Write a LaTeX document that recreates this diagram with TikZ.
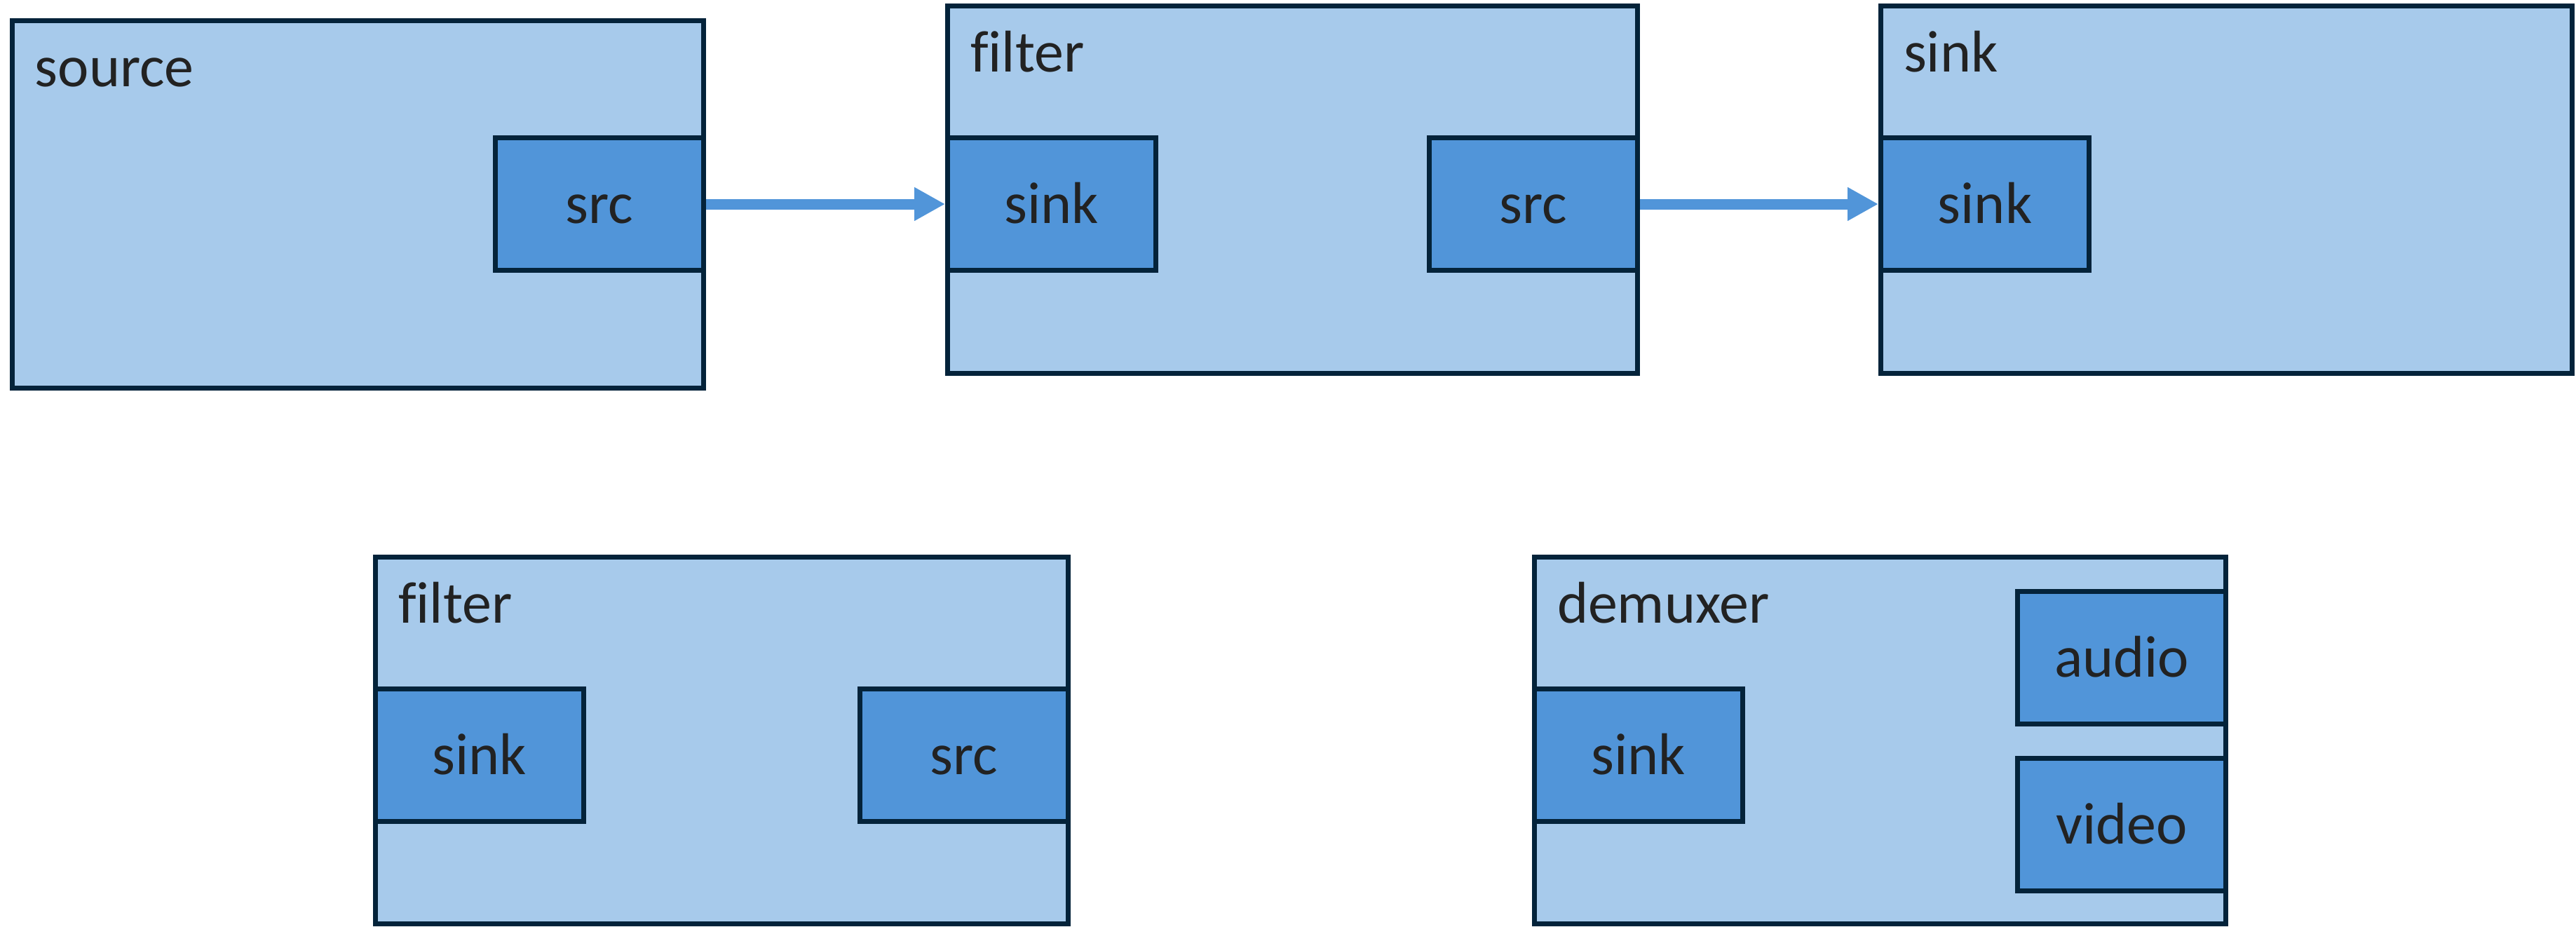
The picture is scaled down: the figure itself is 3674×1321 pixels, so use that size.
\documentclass[tikz,border=0pt]{standalone}
\usepackage{fontspec}
\setmainfont[Ligatures=NoCommon]{Carlito}
\usetikzlibrary{arrows.meta}
\definecolor{boxfill}{HTML}{A7CAEB}
\definecolor{padfill}{HTML}{5195D9}
\definecolor{edgecol}{HTML}{04233A}
\definecolor{txtcol}{HTML}{222222}
\begin{document}
\begin{tikzpicture}[x=0.2pt,y=-0.2pt,
  elem/.style={draw=edgecol, fill=boxfill, line width=1.4pt, inner sep=0pt,
    minimum width=197.2pt, minimum height=104.8pt},
  padbox/.style={draw=edgecol, fill=padfill, line width=1.4pt, inner sep=0pt,
    minimum width=59.4pt, minimum height=37.8pt, text=txtcol,
    font=\fontsize{16.8}{20}\selectfont, text height=10.8pt, text depth=0pt},
  title/.style={anchor=base west, inner sep=0pt, text=txtcol,
    font=\fontsize{16.8}{20}\selectfont},
  link/.style={draw=padfill, line width=3pt, -{Triangle[length=8.8pt,width=9pt]}}]
\useasboundingbox (0,0) rectangle (3674,1321);
% top row
\node[elem] (source) at (510.5,291.5) {};
\node[title] (sourcet) at ([shift={(35,97)}]source.north west) {source};
\node[padbox] (srcpad) at (855,291) {src};

\node[elem, minimum width=196.8pt] (filter) at (1843.5,270.5) {};
\node[title] (filtert) at ([shift={(35,97)}]filter.north west) {filter};
\node[padbox] (fsink) at (1500,291) {sink};
\node[padbox] (fsrc) at (2187,291) {src};

\node[elem] (sink) at (3175.5,270.5) {};
\node[title] (sinkt) at ([shift={(35,97)}]sink.north west) {sink};
\node[padbox] (sinkpad) at (2831,291) {sink};

\draw[link] (srcpad.east) -- (fsink.west);
\draw[link] (fsrc.east) -- (sinkpad.west);

% bottom row
\node[elem, minimum width=197.6pt, minimum height=104.6pt] (bfilter) at (1029.5,1056) {};
\node[title] (bfiltert) at ([shift={(35,97)}]bfilter.north west) {filter};
\node[padbox] (bsink) at (684,1077) {sink};
\node[padbox] (bsrc) at (1375,1077) {src};

\node[elem, minimum height=104.6pt] (demux) at (2681.5,1056) {};
\node[title] (demuxt) at ([shift={(35,97)}]demux.north west) {demuxer};
\node[padbox] (dsink) at (2337,1077) {sink};
\node[padbox] (audio) at (3026,938) {audio};
\node[padbox] (video) at (3026,1176) {video};
\end{tikzpicture}
\end{document}
